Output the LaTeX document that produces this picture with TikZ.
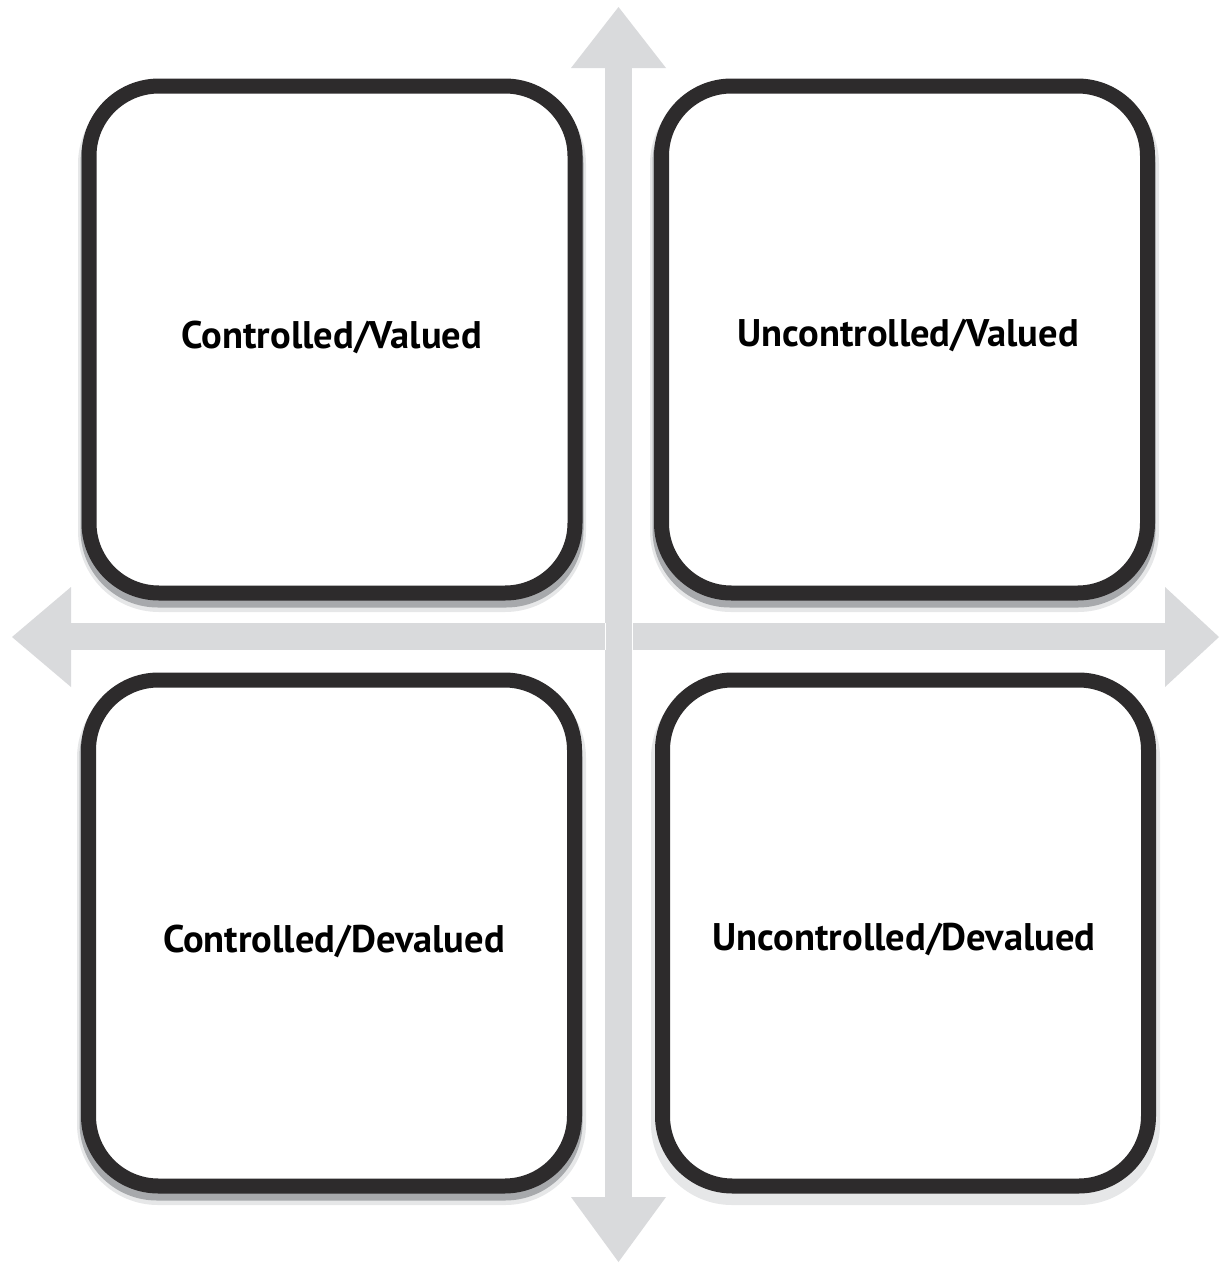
\documentclass[tikz,border=0pt]{standalone}
\usepackage{fontspec}
\setmainfont{PT Sans}
\definecolor{axisgray}{HTML}{D9DADC}
\definecolor{boxblack}{HTML}{2D2B2C}
\definecolor{shadowmid}{HTML}{A7A9AC}
\definecolor{shadowlight}{HTML}{E6E7E8}
\tikzset{
  quad/.style={draw=boxblack, line width=15pt, rounded corners=70pt, fill=white,
    minimum width=486pt, minimum height=507pt, inner sep=0pt},
  halo/.style={draw=shadowlight, line width=22pt, rounded corners=70pt},
  midshadow/.style={draw=shadowmid, line width=15pt, rounded corners=70pt},
  lbl/.style={font=\bfseries\fontsize{38.5}{42}\selectfont, text=black, inner sep=0pt},
  axis/.style={fill=axisgray, draw=none}
}
\begin{document}
\begin{tikzpicture}[x=1pt,y=-1pt]
\useasboundingbox (0,0) rectangle (1221,1264);
% axes
\fill[axis] (605,68) rectangle (632,1197);
\fill[axis] (571,68) -- (618.5,7) -- (666,68) -- cycle;
\fill[axis] (571,1197) -- (618.5,1262) -- (666,1197) -- cycle;
\fill[axis] (71,623) rectangle (1165,650);
\fill[axis] (71,587) -- (12,637) -- (71,687) -- cycle;
\fill[axis] (1165,587) -- (1219,637) -- (1165,687) -- cycle;
\draw[white, line width=0.5pt] (605,623) -- (605,650) (632,623) -- (632,650);
% shadows
\draw[halo] (89,94) rectangle (575,601);
\draw[halo] (661,94) rectangle (1148,601);
\draw[halo] (88,688) rectangle (575,1194);
\draw[halo] (662,688) rectangle (1149,1194);
\draw[midshadow] (88,93) rectangle (576,600);
\draw[midshadow] (660,93) rectangle (1148,600);
\draw[midshadow] (87,687) rectangle (575,1193);
% boxes
\node[quad] (tl) at (332,339.5) {};
\node[quad] (tr) at (904.5,339.5) {};
\node[quad, minimum height=506pt] (bl) at (331.5,933) {};
\node[quad, minimum height=506pt] (br) at (905.5,933) {};
% labels
\node[lbl] (ltl) at (332,337) {Controlled/Valued};
\node[lbl] (ltr) at (908,335) {Uncontrolled/Valued};
\node[lbl] (lbl) at (334,941) {Controlled/Devalued};
\node[lbl] (lbr) at (904,939) {Uncontrolled/Devalued};
\end{tikzpicture}
\end{document}
